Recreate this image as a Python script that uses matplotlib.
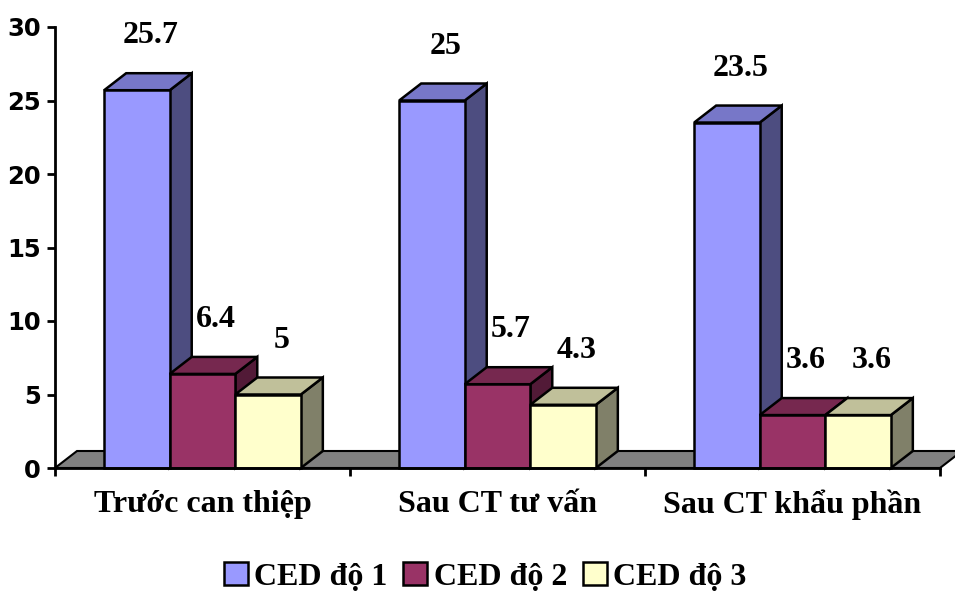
import numpy as np
import matplotlib.pyplot as plt
from matplotlib.patches import Polygon, Patch

categories = ['Trước can thiệp', 'Sau CT tư vấn', 'Sau CT khẩu phần']
series = ['CED độ 1', 'CED độ 2', 'CED độ 3']
ced1 = [25.7, 25, 23.5]
ced2 = [6.4, 5.7, 3.6]
ced3 = [5, 4.3, 3.6]

# front / top / side shades for each series
front = ['#9999FF', '#993366', '#FFFFCC']
top = ['#7777C8', '#76284F', '#C0C09A']
side = ['#4D4D80', '#521A37', '#808069']

serif = 'Liberation Serif'

fig = plt.figure(figsize=(9.55, 5.94), dpi=100)
ax = fig.add_axes([55 / 955, 126 / 594, 885 / 955, 441 / 594])
ax.set_xlim(0, 3)
ax.set_ylim(0, 30)

# depth of the fake 3d boxes, in data units
ddx = 22 / 295
ddy = 17 * 30 / 441
w = 1 / 4.5
off = 0.75 * w

# floor
floor = Polygon([(0, 0), (3, 0), (3 + ddx, ddy), (ddx, ddy)], closed=True,
                facecolor='#808080', edgecolor='black', lw=1.5, zorder=1,
                clip_on=False)
ax.add_patch(floor)

z = 2
for i in range(len(categories)):
    vals = [ced1[i], ced2[i], ced3[i]]
    for j, v in enumerate(vals):
        x0 = i + off + j * w
        x1 = x0 + w
        faces = [
            ([(x1, 0), (x1 + ddx, ddy), (x1 + ddx, v + ddy), (x1, v)], side[j]),
            ([(x0, v), (x1, v), (x1 + ddx, v + ddy), (x0 + ddx, v + ddy)], top[j]),
            ([(x0, 0), (x1, 0), (x1, v), (x0, v)], front[j]),
        ]
        for pts, c in faces:
            ax.add_patch(Polygon(pts, closed=True, facecolor=c, edgecolor='black',
                                 lw=1.8, joinstyle='miter', zorder=z, clip_on=False))
        z += 1
        ax.text(x0 + w / 2 + 0.045, v + 3.7, f'{v:g}', ha='center', va='center',
                fontsize=23, fontweight='bold', family=serif, zorder=50)

for s in ['top', 'right']:
    ax.spines[s].set_visible(False)
for s in ['left', 'bottom']:
    ax.spines[s].set_linewidth(2)
    ax.spines[s].set_zorder(40)

ax.set_yticks(np.arange(0, 31, 5))
ax.set_yticklabels([str(t) for t in range(0, 31, 5)], fontsize=17.5,
                   fontweight='bold', family='DejaVu Sans')
ax.tick_params(axis='y', length=6, width=2, pad=4)
ax.set_xticks([0, 1, 2, 3])
ax.set_xticklabels([])
ax.tick_params(axis='x', length=6, width=2)

for i, name in enumerate(categories):
    ax.text(i + 0.5, -2.5, name, ha='center', va='center', fontsize=23,
            fontweight='bold', family=serif)

handles = [Patch(facecolor=front[j], edgecolor='black', lw=1.8) for j in range(3)]
fig.legend(handles, series, loc='center', bbox_to_anchor=(0.508, 1 - 577 / 594),
           ncol=3, frameon=False, handlelength=0.75, handleheight=0.75,
           handletextpad=0.2, columnspacing=0.5,
           prop={'family': serif, 'weight': 'bold', 'size': 23})

fig.savefig('out.png', dpi=100)
